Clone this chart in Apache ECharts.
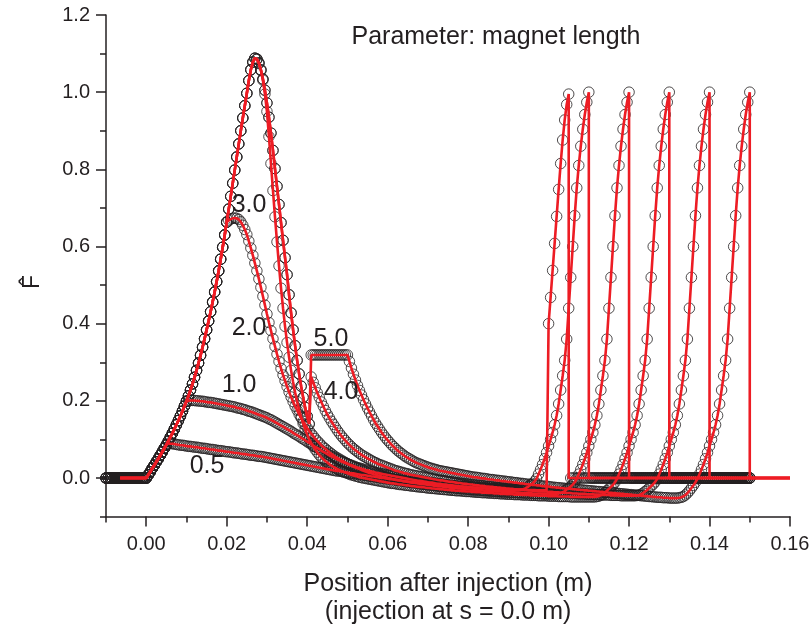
<!DOCTYPE html>
<html>
<head>
<meta charset="utf-8">
<script src="https://cdn.jsdelivr.net/npm/echarts@6/dist/echarts.min.js"></script>
<style>
  html, body { margin: 0; padding: 0; background: #ffffff; }
  #chart { width: 812px; height: 630px; }
</style>
</head>
<body>
<div id="chart"></div>
<script>
// Samples are taken every 0.5 mm, starting 10 mm before injection.
const sampleStart = -0.01;
const sampleStep = 0.0005;

// Flat response before injection (x = -0.0100 ... -0.0005 m)
const leadIn = [0,0,0,0,0,0,0,0,0,0, 0,0,0,0,0,0,0,0,0,0];

// F-hat samples from x = 0.000 m to x = 0.150 m, one row per 5 mm.
const F_05 = [
  0,.008,.016,.025,.033,.042,.050,.059,.068,.077,
  .086,.090,.089,.089,.088,.087,.086,.085,.085,.084,
  .083,.082,.082,.081,.080,.080,.079,.078,.077,.077,
  .076,.075,.074,.074,.073,.072,.071,.071,.070,.069,
  .068,.068,.067,.066,.065,.065,.064,.063,.062,.062,
  .061,.060,.059,.059,.058,.057,.056,.056,.055,.054,
  .053,.052,.051,.050,.049,.048,.047,.046,.045,.044,
  .043,.042,.041,.040,.039,.038,.037,.036,.035,.034,
  .033,.032,.031,.030,.029,.028,.027,.026,.025,.024,
  .023,.022,.021,.020,.019,.018,.018,.017,.016,.015,
  .014,.013,.012,.012,.011,.010,.009,.008,.008,.007,
  .006,.005,.004,.004,.003,.002,.001,0,0,-.001,
  -.002,-.003,-.003,-.004,-.005,-.006,-.006,-.007,-.008,-.008,
  -.009,-.010,-.010,-.011,-.011,-.012,-.012,-.013,-.013,-.014,
  -.015,-.015,-.016,-.016,-.017,-.017,-.017,-.018,-.018,-.019,
  -.020,-.020,-.020,-.021,-.021,-.022,-.022,-.022,-.023,-.023,
  -.024,-.024,-.024,-.025,-.025,-.025,-.026,-.026,-.026,-.026,
  -.027,-.027,-.027,-.027,-.028,-.028,-.028,-.028,-.028,-.029,
  -.029,-.029,-.029,-.030,-.030,-.030,-.030,-.030,-.031,-.031,
  -.031,-.031,-.031,-.031,-.032,-.032,-.032,-.032,-.032,-.032,
  .400,.468,.538,.608,.678,.748,.815,.876,.928,.968,
  .995,0,0,0,0,0,0,0,0,0,
  0,0,0,0,0,0,0,0,0,0,
  0,0,0,0,0,0,0,0,0,0,
  0,0,0,0,0,0,0,0,0,0,
  0,0,0,0,0,0,0,0,0,0,
  0,0,0,0,0,0,0,0,0,0,
  0,0,0,0,0,0,0,0,0,0,
  0,0,0,0,0,0,0,0,0,0,
  0,0,0,0,0,0,0,0,0,0,
  0
];

const F_10 = [
  0,.008,.016,.025,.033,.042,.050,.059,.068,.077,
  .086,.096,.106,.116,.127,.138,.149,.161,.173,.186,
  .199,.200,.201,.201,.201,.200,.200,.199,.199,.198,
  .197,.196,.196,.195,.194,.193,.192,.191,.190,.189,
  .188,.187,.186,.185,.184,.182,.181,.180,.178,.177,
  .175,.173,.172,.170,.168,.166,.164,.162,.160,.158,
  .156,.153,.151,.148,.145,.142,.139,.136,.133,.130,
  .127,.124,.121,.117,.114,.111,.108,.104,.101,.098,
  .094,.091,.088,.084,.081,.078,.075,.071,.068,.065,
  .062,.059,.056,.054,.051,.048,.046,.043,.041,.039,
  .037,.035,.033,.031,.029,.027,.026,.024,.023,.021,
  .020,.018,.017,.016,.014,.013,.012,.011,.010,.009,
  .008,.007,.006,.005,.004,.003,.002,.001,0,-.001,
  -.002,-.003,-.004,-.005,-.006,-.007,-.007,-.008,-.009,-.010,
  -.011,-.012,-.012,-.013,-.014,-.015,-.015,-.016,-.017,-.017,
  -.018,-.019,-.019,-.020,-.021,-.021,-.022,-.022,-.023,-.023,
  -.024,-.024,-.025,-.025,-.026,-.026,-.027,-.027,-.027,-.028,
  -.028,-.029,-.029,-.029,-.030,-.030,-.030,-.031,-.031,-.031,
  -.032,-.032,-.032,-.032,-.032,-.032,-.031,-.030,-.028,-.025,
  -.022,-.018,-.014,-.009,-.002,.010,.022,.035,.050,.066,
  .083,.100,.118,.138,.162,.192,.228,.265,.305,.360,
  .440,.520,.600,.680,.752,.810,.860,.904,.942,.974,
  1,0,0,0,0,0,0,0,0,0,
  0,0,0,0,0,0,0,0,0,0,
  0,0,0,0,0,0,0,0,0,0,
  0,0,0,0,0,0,0,0,0,0,
  0,0,0,0,0,0,0,0,0,0,
  0,0,0,0,0,0,0,0,0,0,
  0,0,0,0,0,0,0,0,0,0,
  0,0,0,0,0,0,0,0,0,0,
  0
];

const F_20 = [
  0,.008,.016,.025,.033,.042,.050,.059,.068,.077,
  .086,.096,.106,.116,.127,.138,.149,.161,.173,.186,
  .199,.213,.228,.244,.261,.279,.298,.318,.339,.361,
  .384,.407,.431,.456,.482,.509,.537,.567,.598,.630,
  .663,.668,.671,.673,.674,.673,.670,.664,.655,.644,
  .631,.614,.596,.577,.557,.537,.516,.494,.471,.448,
  .425,.403,.382,.361,.341,.321,.302,.284,.267,.252,
  .237,.223,.210,.198,.186,.176,.165,.156,.147,.138,
  .130,.122,.115,.109,.102,.096,.091,.085,.080,.076,
  .071,.067,.063,.059,.055,.052,.049,.046,.043,.040,
  .037,.034,.032,.029,.027,.025,.023,.021,.019,.017,
  .015,.013,.012,.010,.009,.007,.006,.004,.003,.002,
  0,-.001,-.002,-.003,-.004,-.005,-.006,-.007,-.008,-.009,
  -.010,-.011,-.012,-.012,-.013,-.014,-.015,-.016,-.016,-.017,
  -.018,-.018,-.019,-.020,-.020,-.021,-.022,-.022,-.023,-.023,
  -.024,-.025,-.025,-.026,-.026,-.027,-.027,-.028,-.028,-.029,
  -.029,-.030,-.030,-.031,-.031,-.031,-.032,-.032,-.033,-.033,
  -.033,-.034,-.034,-.034,-.035,-.035,-.035,-.036,-.036,-.036,
  -.037,-.037,-.037,-.037,-.038,-.038,-.038,-.038,-.039,-.039,
  -.039,-.039,-.040,-.040,-.040,-.040,-.040,-.041,-.041,-.041,
  -.041,-.041,-.041,-.041,-.041,-.040,-.039,-.037,-.034,-.030,
  -.026,-.022,-.017,-.011,-.002,.010,.022,.035,.050,.066,
  .083,.100,.118,.138,.162,.192,.228,.265,.305,.360,
  .440,.520,.600,.680,.752,.810,.860,.904,.942,.974,
  1,0,0,0,0,0,0,0,0,0,
  0,0,0,0,0,0,0,0,0,0,
  0,0,0,0,0,0,0,0,0,0,
  0,0,0,0,0,0,0,0,0,0,
  0,0,0,0,0,0,0,0,0,0,
  0,0,0,0,0,0,0,0,0,0,
  0
];

const F_30 = [
  0,.008,.016,.025,.033,.042,.050,.059,.068,.077,
  .086,.096,.106,.116,.127,.138,.149,.161,.173,.186,
  .199,.213,.228,.244,.261,.279,.298,.318,.339,.361,
  .384,.407,.431,.456,.482,.509,.537,.567,.598,.630,
  .663,.697,.730,.764,.798,.832,.866,.900,.933,.965,
  .997,1.030,1.058,1.078,1.088,1.085,1.074,1.056,1.031,.995,
  .950,.885,.815,.745,.677,.612,.550,.492,.440,.393,
  .351,.313,.279,.249,.222,.198,.177,.158,.141,.126,
  .113,.101,.091,.082,.074,.067,.060,.054,.049,.044,
  .040,.036,.032,.029,.026,.023,.021,.018,.016,.014,
  .012,.010,.008,.007,.005,.004,.002,.001,0,-.001,
  -.002,-.003,-.004,-.005,-.006,-.007,-.008,-.009,-.010,-.011,
  -.012,-.013,-.014,-.014,-.015,-.016,-.017,-.017,-.018,-.019,
  -.019,-.020,-.021,-.021,-.022,-.023,-.023,-.024,-.024,-.025,
  -.026,-.026,-.027,-.027,-.028,-.028,-.029,-.029,-.030,-.030,
  -.031,-.031,-.032,-.032,-.033,-.033,-.033,-.034,-.034,-.035,
  -.035,-.035,-.036,-.036,-.037,-.037,-.037,-.038,-.038,-.038,
  -.039,-.039,-.039,-.040,-.040,-.040,-.041,-.041,-.041,-.042,
  -.042,-.042,-.042,-.043,-.043,-.043,-.043,-.044,-.044,-.044,
  -.044,-.045,-.045,-.045,-.045,-.046,-.046,-.046,-.046,-.046,
  -.047,-.047,-.047,-.047,-.047,-.048,-.048,-.048,-.048,-.048,
  -.048,-.049,-.049,-.049,-.049,-.049,-.049,-.049,-.049,-.049,
  -.049,-.049,-.049,-.049,-.048,-.047,-.045,-.042,-.038,-.033,
  -.028,-.023,-.018,-.011,-.002,.010,.022,.035,.050,.066,
  .083,.100,.118,.138,.162,.192,.228,.265,.305,.360,
  .440,.520,.600,.680,.752,.810,.860,.904,.942,.974,
  1,0,0,0,0,0,0,0,0,0,
  0,0,0,0,0,0,0,0,0,0,
  0,0,0,0,0,0,0,0,0,0,
  0,0,0,0,0,0,0,0,0,0,
  0
];

const F_40 = [
  0,.008,.016,.025,.033,.042,.050,.059,.068,.077,
  .086,.096,.106,.116,.127,.138,.149,.161,.173,.186,
  .199,.213,.228,.244,.261,.279,.298,.318,.339,.361,
  .384,.407,.431,.456,.482,.509,.537,.567,.598,.630,
  .663,.697,.730,.764,.798,.832,.866,.900,.933,.965,
  .997,1.030,1.058,1.078,1.088,1.086,1.076,1.058,1.034,1.005,
  .972,.935,.894,.849,.802,.756,.709,.662,.616,.571,
  .527,.475,.428,.384,.343,.305,.270,.238,.209,.183,
  .160,.140,.262,.248,.234,.221,.209,.197,.186,.175,
  .165,.156,.147,.139,.131,.123,.116,.109,.103,.097,
  .091,.086,.081,.076,.072,.068,.064,.060,.057,.054,
  .051,.048,.045,.042,.040,.037,.035,.033,.031,.029,
  .027,.025,.023,.021,.019,.018,.016,.015,.013,.012,
  .011,.009,.008,.007,.006,.005,.004,.003,.002,.001,
  0,-.001,-.002,-.003,-.004,-.005,-.006,-.006,-.007,-.008,
  -.009,-.010,-.010,-.011,-.012,-.013,-.013,-.014,-.015,-.015,
  -.016,-.017,-.017,-.018,-.019,-.019,-.020,-.020,-.021,-.022,
  -.022,-.023,-.023,-.024,-.024,-.025,-.025,-.026,-.026,-.027,
  -.027,-.028,-.028,-.029,-.029,-.030,-.030,-.030,-.031,-.031,
  -.032,-.032,-.033,-.033,-.033,-.034,-.034,-.035,-.035,-.035,
  -.036,-.036,-.036,-.037,-.037,-.037,-.038,-.038,-.038,-.039,
  -.039,-.039,-.040,-.040,-.040,-.041,-.041,-.041,-.041,-.042,
  -.042,-.042,-.042,-.043,-.043,-.043,-.043,-.044,-.044,-.044,
  -.044,-.045,-.045,-.045,-.045,-.045,-.046,-.046,-.046,-.046,
  -.046,-.046,-.046,-.046,-.045,-.044,-.042,-.039,-.035,-.031,
  -.026,-.021,-.016,-.010,-.002,.010,.022,.035,.050,.066,
  .083,.100,.118,.138,.162,.192,.228,.265,.305,.360,
  .440,.520,.600,.680,.752,.810,.860,.904,.942,.974,
  1,0,0,0,0,0,0,0,0,0,
  0,0,0,0,0,0,0,0,0,0,
  0
];

const F_50 = [
  0,.008,.016,.025,.033,.042,.050,.059,.068,.077,
  .086,.096,.106,.116,.127,.138,.149,.161,.173,.186,
  .199,.213,.228,.244,.261,.279,.298,.318,.339,.361,
  .384,.407,.431,.456,.482,.509,.537,.567,.598,.630,
  .663,.697,.730,.764,.798,.832,.866,.900,.933,.965,
  .997,1.030,1.058,1.078,1.088,1.086,1.076,1.058,1.034,1.005,
  .972,.935,.894,.849,.802,.756,.709,.662,.616,.571,
  .527,.475,.428,.384,.343,.305,.270,.238,.209,.183,
  .160,.140,.319,.319,.319,.319,.319,.319,.319,.319,
  .319,.319,.319,.319,.319,.319,.319,.319,.319,.319,
  .319,.302,.285,.269,.254,.240,.227,.215,.203,.192,
  .181,.171,.161,.151,.142,.134,.126,.118,.111,.104,
  .098,.092,.086,.081,.076,.071,.067,.063,.059,.055,
  .052,.049,.046,.043,.040,.038,.036,.034,.032,.030,
  .028,.026,.025,.023,.022,.020,.019,.018,.017,.016,
  .015,.014,.013,.012,.011,.010,.009,.008,.007,.006,
  .005,.004,.003,.002,.002,.001,0,-.001,-.001,-.002,
  -.003,-.004,-.004,-.005,-.006,-.006,-.007,-.008,-.008,-.009,
  -.010,-.010,-.011,-.012,-.012,-.013,-.014,-.014,-.015,-.016,
  -.016,-.017,-.018,-.018,-.019,-.019,-.020,-.021,-.021,-.022,
  -.022,-.023,-.024,-.024,-.025,-.025,-.026,-.026,-.027,-.027,
  -.028,-.028,-.029,-.029,-.030,-.030,-.031,-.031,-.032,-.032,
  -.033,-.033,-.034,-.034,-.035,-.035,-.036,-.036,-.037,-.037,
  -.038,-.038,-.039,-.039,-.040,-.040,-.041,-.041,-.042,-.042,
  -.043,-.043,-.044,-.044,-.045,-.045,-.046,-.046,-.047,-.047,
  -.048,-.048,-.049,-.049,-.050,-.050,-.050,-.051,-.051,-.051,
  -.052,-.052,-.052,-.052,-.052,-.051,-.050,-.048,-.044,-.039,
  -.033,-.026,-.019,-.011,-.002,.010,.022,.035,.050,.066,
  .083,.100,.118,.138,.162,.192,.228,.265,.305,.360,
  .440,.520,.600,.680,.752,.810,.860,.904,.942,.974,
  1
];

// Magnet lengths and the position where each response drops back to zero (m)
const magnetLengths = ['0.5', '1.0', '2.0', '3.0', '4.0', '5.0'];
const dropPositions = [0.105, 0.11, 0.12, 0.13, 0.14, 0.15];
const curveSamples = [F_05, F_10, F_20, F_30, F_40, F_50];

// Range covered by the model curves (m)
const modelStartX = -0.0065;
const modelEndX = 0.16;

// Axis ticks
const xTickLabels = [0, 0.02, 0.04, 0.06, 0.08, 0.10, 0.12, 0.14, 0.16];
const xMinorTicks = [-0.01, 0.01, 0.03, 0.05, 0.07, 0.09, 0.11, 0.13, 0.15];
const yTickLabels = [0, 0.2, 0.4, 0.6, 0.8, 1.0, 1.2];
const yMinorTicks = [-0.1, 0.1, 0.3, 0.5, 0.7, 0.9, 1.1];

// Where each magnet-length tag sits, in axis units
const tagAnchors = [
  { text: '3.0', x: 0.02555, y: 0.708 },
  { text: '2.0', x: 0.02555, y: 0.389 },
  { text: '1.0', x: 0.02306, y: 0.241 },
  { text: '0.5', x: 0.01511, y: 0.0316 },
  { text: '5.0', x: 0.04592, y: 0.361 },
  { text: '4.0', x: 0.04841, y: 0.2235 }
];

const ink = '#231f20';
const modelRed = '#ed1c24';
const fontFamily = '"Liberation Sans", Arial, Helvetica, sans-serif';

function sampleX(i) {
  return Math.round((sampleStart + i * sampleStep) * 10000) / 10000;
}

function measuredPoints(values) {
  return leadIn.concat(values).map((y, i) => [sampleX(i), y]);
}

function modelPoints(values, dropX) {
  const pts = [];
  measuredPoints(values).forEach(p => {
    if (p[0] < modelStartX) return;
    pts.push(p);
    if (p[0] === dropX) pts.push([dropX, 0]);
  });
  pts.push([modelEndX, 0]);
  return pts;
}

const series = [];

// Computed response: open circles
curveSamples.forEach((values, k) => {
  series.push({
    type: 'scatter',
    name: 'L = ' + magnetLengths[k],
    data: measuredPoints(values),
    symbol: 'circle',
    symbolSize: 10.5,
    itemStyle: { color: 'rgba(0,0,0,0)', borderColor: ink, borderWidth: 1 },
    z: 2,
    silent: true
  });
});

// Model: red lines
curveSamples.forEach((values, k) => {
  series.push({
    type: 'line',
    name: 'model ' + magnetLengths[k],
    data: modelPoints(values, dropPositions[k]),
    showSymbol: false,
    symbol: 'none',
    lineStyle: { color: modelRed, width: 2.6 },
    z: 3,
    silent: true
  });
});

const chart = echarts.init(document.getElementById('chart'), null, { renderer: 'canvas' });

chart.setOption({
  animation: false,
  backgroundColor: '#ffffff',
  textStyle: { fontFamily: fontFamily, color: ink },
  grid: { left: 106, right: 22, top: 15, bottom: 113.4, containLabel: false, outerBoundsMode: 'none' },
  xAxis: [
    {
      type: 'value', min: -0.01, max: 0.16, position: 'bottom',
      axisLine: { show: true, onZero: false, lineStyle: { color: ink, width: 1.5 } },
      axisTick: { show: true, customValues: xTickLabels, length: 10, lineStyle: { color: ink, width: 1.5 } },
      axisLabel: { customValues: xTickLabels, formatter: v => v.toFixed(2), fontSize: 20, color: ink, margin: 18, fontFamily: fontFamily },
      splitLine: { show: false },
      name: 'Position after injection (m)\n(injection at s = 0.0 m)',
      nameLocation: 'middle',
      nameGap: 54,
      nameTextStyle: { fontSize: 25, lineHeight: 28, color: ink, fontFamily: fontFamily }
    },
    {
      type: 'value', min: -0.01, max: 0.16, position: 'bottom',
      axisLine: { show: false, onZero: false },
      axisTick: { show: true, customValues: xMinorTicks, length: 6, lineStyle: { color: ink, width: 1.5 } },
      axisLabel: { show: false },
      splitLine: { show: false }
    }
  ],
  yAxis: [
    {
      type: 'value', min: -0.1, max: 1.2, position: 'left',
      axisLine: { show: true, onZero: false, lineStyle: { color: ink, width: 1.5 } },
      axisTick: { show: true, customValues: yTickLabels, length: 10, lineStyle: { color: ink, width: 1.5 } },
      axisLabel: { customValues: yTickLabels, formatter: v => v.toFixed(1), fontSize: 20, color: ink, margin: 16, fontFamily: fontFamily },
      splitLine: { show: false }
    },
    {
      type: 'value', min: -0.1, max: 1.2, position: 'left',
      axisLine: { show: false, onZero: false },
      axisTick: { show: true, customValues: yMinorTicks, length: 6, lineStyle: { color: ink, width: 1.5 } },
      axisLabel: { show: false },
      splitLine: { show: false }
    }
  ],
  series: series
});

// Text drawn over the plot: title, y-axis symbol and the magnet-length tags
function textEl(text, x, y, size, rotation) {
  return {
    type: 'text', x: x, y: y, rotation: rotation || 0, z: 100, silent: true,
    style: {
      text: text, font: size + 'px ' + fontFamily, fill: ink,
      align: 'center', verticalAlign: 'middle', textAlign: 'center', textVerticalAlign: 'middle'
    }
  };
}

const overlay = [
  textEl('Parameter: magnet length', 496, 37, 25),
  textEl('F\u0302', 33, 282, 23, Math.PI / 2)
];
tagAnchors.forEach(a => {
  const p = chart.convertToPixel({ xAxisIndex: 0, yAxisIndex: 0 }, [a.x, a.y]);
  overlay.push(textEl(a.text, p[0], p[1], 25));
});
chart.setOption({ graphic: overlay });
</script>
</body>
</html>
